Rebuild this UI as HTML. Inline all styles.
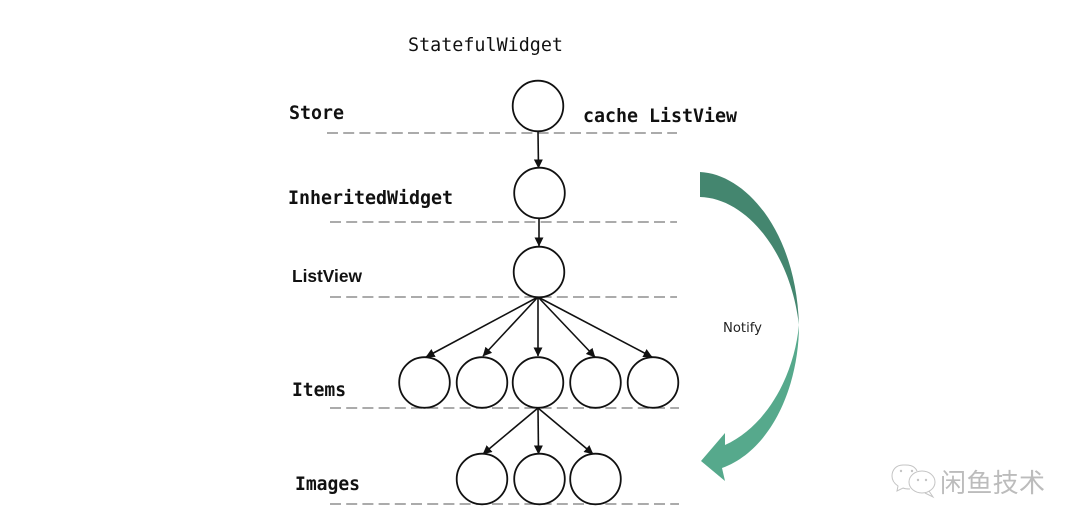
<!DOCTYPE html>
<html lang="zh">
<head>
<meta charset="utf-8">
<title>StatefulWidget diagram</title>
<style>
html,body{margin:0;padding:0;background:#fff;width:1080px;height:530px;overflow:hidden}
svg{display:block;filter:blur(0.35px)}
.m{font-family:"DejaVu Sans Mono","Liberation Mono",monospace;fill:#111}
.b{font-weight:700;font-size:18.3px}
.d{stroke:#8f8f8f;stroke-width:1.4;stroke-dasharray:11 5.2;fill:none}
.c{fill:#fff;stroke:#111;stroke-width:1.8}
.l{stroke:#111;stroke-width:1.6;fill:none}
</style>
</head>
<body>
<svg width="1080" height="530" viewBox="0 0 1080 530" xmlns="http://www.w3.org/2000/svg">
<defs>
<linearGradient id="g" x1="0" y1="172" x2="0" y2="481" gradientUnits="userSpaceOnUse">
<stop offset="0" stop-color="#44866f"/>
<stop offset="0.47" stop-color="#44866f"/>
<stop offset="0.49" stop-color="#56a98c"/>
<stop offset="1" stop-color="#56a98c"/>
</linearGradient>
<marker id="a" viewBox="0 0 10 10" refX="9.5" refY="5" markerWidth="9" markerHeight="9" markerUnits="userSpaceOnUse" orient="auto"><path d="M0 0L10 5L0 10Z" fill="#111"/></marker>
</defs>

<!-- dashed level lines -->
<path class="d" d="M327 133H677"/>
<path class="d" d="M330 222H677"/>
<path class="d" d="M330 297H677"/>
<path class="d" d="M330 408H679"/>
<path class="d" d="M330 504H679"/>

<!-- connectors -->
<path class="l" d="M538 132L538.5 168" marker-end="url(#a)"/>
<path class="l" d="M539 218L539 246" marker-end="url(#a)"/>
<path class="l" d="M538 297L426 357" marker-end="url(#a)"/>
<path class="l" d="M538 297L483 356" marker-end="url(#a)"/>
<path class="l" d="M538 297L538 356" marker-end="url(#a)"/>
<path class="l" d="M538 297L595 357" marker-end="url(#a)"/>
<path class="l" d="M538 297L652 357" marker-end="url(#a)"/>
<path class="l" d="M538 408L483 454" marker-end="url(#a)"/>
<path class="l" d="M538 408L538.5 454" marker-end="url(#a)"/>
<path class="l" d="M538 408L593 454" marker-end="url(#a)"/>

<!-- nodes -->
<circle class="c" cx="538" cy="106" r="25.3"/>
<circle class="c" cx="539.5" cy="193" r="25.3"/>
<circle class="c" cx="539" cy="272" r="25.3"/>
<circle class="c" cx="424.5" cy="382.5" r="25.3"/>
<circle class="c" cx="482" cy="382.5" r="25.3"/>
<circle class="c" cx="538" cy="382.5" r="25.3"/>
<circle class="c" cx="595.5" cy="382.5" r="25.3"/>
<circle class="c" cx="653" cy="382.5" r="25.3"/>
<circle class="c" cx="482" cy="479" r="25.3"/>
<circle class="c" cx="539.5" cy="479" r="25.3"/>
<circle class="c" cx="595.5" cy="479" r="25.3"/>

<!-- labels -->
<text class="m" x="408" y="51" font-size="18.3" textLength="155" lengthAdjust="spacingAndGlyphs">StatefulWidget</text>
<text class="m b" x="289" y="119" textLength="55" lengthAdjust="spacingAndGlyphs">Store</text>
<text class="m b" x="583" y="122" textLength="154" lengthAdjust="spacingAndGlyphs">cache ListView</text>
<text class="m b" x="288" y="204" textLength="165" lengthAdjust="spacingAndGlyphs">InheritedWidget</text>
<text x="292" y="282" font-family="'Liberation Sans',sans-serif" font-weight="700" font-size="17.5" fill="#111" textLength="70" lengthAdjust="spacingAndGlyphs">ListView</text>
<text class="m b" x="292" y="396" textLength="54" lengthAdjust="spacingAndGlyphs">Items</text>
<text class="m b" x="295" y="490" textLength="65" lengthAdjust="spacingAndGlyphs">Images</text>
<text x="723" y="332" font-family="'DejaVu Sans',sans-serif" font-size="13" fill="#222" textLength="39" lengthAdjust="spacingAndGlyphs">Notify</text>

<!-- curved Notify arrow -->
<path fill="url(#g)" d="M700 172C745 174 796 230 799 325C799 385 772 450 722 468L725 481L701 461L725 433L725 445C768 425 794 375 799 325C790 250 745 198 700 197Z"/>

<!-- watermark -->
<g fill="none" stroke="#c4c4c4" stroke-width="1">
<path d="M917 471C914 464 906 465 903 465C896 465 892 470 892 476C892 481 895 484 898 486L897 491L903 488C905 489 908 489 910 489"/>
<ellipse cx="922" cy="482" rx="13" ry="11" fill="#fff"/>
<path d="M929 491L933 497L925 493"/>
</g>
<g fill="#c4c4c4">
<circle cx="901" cy="471" r="1.2"/><circle cx="912" cy="471" r="1.2"/>
<circle cx="918" cy="480" r="1.2"/><circle cx="926" cy="480" r="1.2"/>
</g>
<text x="940" y="492" font-family="'Liberation Sans','Noto Sans CJK SC',sans-serif" font-size="26" fill="#bcbcbc" textLength="105" lengthAdjust="spacing">闲鱼技术</text>
</svg>
</body>
</html>
